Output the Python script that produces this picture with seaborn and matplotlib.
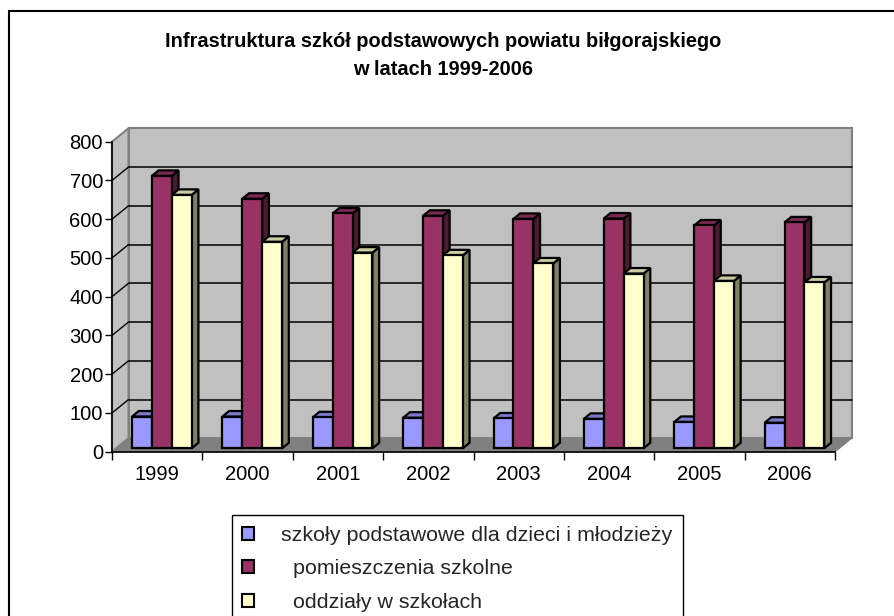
import numpy as np
import pandas as pd
import matplotlib
matplotlib.use("Agg")
import matplotlib.pyplot as plt
import seaborn as sns
from matplotlib.patches import Polygon, Rectangle, Patch

# =========================
# 1. DATA
# =========================
years = ["1999", "2000", "2001", "2002", "2003", "2004", "2005", "2006"]
series_names = [
    "szkoły podstawowe dla dzieci i młodzieży",
    "  pomieszczenia szkolne",
    "  oddziały w szkołach",
]
szkoly = [82, 82, 80, 79, 77, 76, 68, 66]
pomieszczenia = [703, 644, 606, 600, 592, 593, 575, 583]
oddzialy = [654, 533, 505, 498, 477, 451, 432, 428]
y_ticks = [0, 100, 200, 300, 400, 500, 600, 700, 800]

colors = ["#9999FF", "#993366", "#FFFFCC"]
title = "Infrastruktura szkół podstawowych powiatu biłgorajskiego\nw latach 1999-2006"

df = pd.DataFrame({
    "rok": years * 3,
    "seria": [s for s in series_names for _ in years],
    "wartosc": szkoly + pomieszczenia + oddzialy,
})

# =========================
# 2. STYLE
# =========================
sns.set_theme(style="white")
plt.rcParams["font.family"] = ["Liberation Sans", "DejaVu Sans"]

W, H = 894, 616
fig = plt.figure(figsize=(W / 100, H / 100), dpi=100)

# front plane of the pseudo-3D plot, in pixels
left_px, right_px, top_px, bottom_px = 112, 835, 141.7, 451.7
ax = fig.add_axes([left_px / W, 1 - bottom_px / H,
                   (right_px - left_px) / W, (bottom_px - top_px) / H])
ax.set_xlim(-0.5, len(years) - 0.5)
ax.set_ylim(0, 800)
ax.patch.set_visible(False)

# pixel -> data scale
px_x = len(years) / (right_px - left_px)
px_y = 800 / (bottom_px - top_px)
DX, DY = 16.5 * px_x, 13.4 * px_y     # depth of the walls
BDX, BDY = 6.7 * px_x, 5.5 * px_y     # depth of the bars
OX, OY = 4.7 * px_x, 3.4 * px_y       # bars sit inside the floor

x0, x1 = -0.5, len(years) - 0.5

# back wall, left wall, floor
ax.add_patch(Rectangle((x0 + DX, DY), x1 - x0, 800, facecolor="#C0C0C0",
                       edgecolor="#808080", lw=1.5, zorder=0.5, clip_on=False))
ax.add_patch(Polygon([(x0, 0), (x0 + DX, DY), (x0 + DX, 800 + DY), (x0, 800)],
                     closed=True, facecolor="#C0C0C0", edgecolor="#808080",
                     lw=1.5, zorder=0.6, clip_on=False))
ax.add_patch(Polygon([(x0, 0), (x1, 0), (x1 + DX, DY), (x0 + DX, DY)],
                     closed=True, facecolor="#808080", edgecolor="#808080",
                     lw=1, zorder=0.7, clip_on=False))
for t in y_ticks[1:-1]:
    ax.plot([x0 + DX, x1 + DX], [t + DY, t + DY], color="black", lw=1.1,
            zorder=0.8, clip_on=False)
    ax.plot([x0, x0 + DX], [t, t + DY], color="black", lw=1,
            zorder=0.8, clip_on=False)

# =========================
# 3. BARS
# =========================
sns.barplot(data=df, x="rok", y="wartosc", hue="seria", hue_order=series_names,
            palette=colors, saturation=1, width=0.66, edgecolor="black",
            linewidth=1.6, legend=False, ax=ax)


def shade(c, f):
    r, g, b = matplotlib.colors.to_rgb(c)
    return (r * f, g * f, b * f)


for j, cont in enumerate(ax.containers):
    for bar in cont:
        bx, bw, bh = bar.get_x(), bar.get_width(), bar.get_height()
        bar.set_x(bx + OX)
        bar.set_y(OY)
        bar.set_zorder(3 + j * 0.1 + 0.05)
        bar.set_clip_on(False)
        xa, xb = bx + OX, bx + OX + bw
        yt = OY + bh
        side = Polygon([(xb, OY), (xb + BDX, OY + BDY), (xb + BDX, yt + BDY), (xb, yt)],
                       closed=True, facecolor=shade(colors[j], 0.5),
                       edgecolor="black", lw=1.6, zorder=3 + j * 0.1, clip_on=False)
        top = Polygon([(xa, yt), (xa + BDX, yt + BDY), (xb + BDX, yt + BDY), (xb, yt)],
                      closed=True, facecolor=shade(colors[j], 0.8),
                      edgecolor="black", lw=1.6, zorder=3 + j * 0.1, clip_on=False)
        ax.add_patch(side)
        ax.add_patch(top)

# =========================
# 4. AXES
# =========================
ax.set_xlabel("")
ax.set_ylabel("")
ax.set_yticks(y_ticks)
ax.set_yticklabels([str(t) for t in y_ticks])
ax.set_xticks(range(len(years)))
ax.set_xticklabels(years)
ax.set_xticks(np.arange(-0.5, len(years), 1.0), minor=True)
ax.tick_params(axis="x", which="major", length=0, pad=9.5, labelsize=14.5, colors="black")
ax.tick_params(axis="x", which="minor", length=5.5, width=1, direction="out",
               color="black", bottom=True)
ax.tick_params(axis="y", length=5, width=1, direction="out", pad=1.5,
               labelsize=14.5, colors="black", left=True)
for s in ["top", "right"]:
    ax.spines[s].set_visible(False)
for s in ["left", "bottom"]:
    ax.spines[s].set_color("black")
    ax.spines[s].set_linewidth(1.2)
    ax.spines[s].set_zorder(5)
ax.grid(False)

# =========================
# 5. TITLE, LEGEND, BORDER
# =========================
fig.text(443 / W, 1 - 32 / H, title, ha="center", va="top", fontsize=14.4,
         fontweight="bold", linespacing=1.6, color="black")

handles = [Patch(facecolor=c, edgecolor="black", lw=1.5) for c in colors]
fig.legend(handles, series_names, loc="upper left",
           bbox_to_anchor=(231.7 / W, 1 - 515 / H), fontsize=15.4, frameon=True,
           fancybox=False, edgecolor="black", framealpha=1, borderpad=0.5,
           handlelength=0.55, handleheight=0.55, handletextpad=1.25,
           labelspacing=0.68, borderaxespad=0)

fig.add_artist(Rectangle((8.5 / W, -0.1), 1.2, 1.1 - 10.5 / H,
                         transform=fig.transFigure, facecolor="none",
                         edgecolor="black", lw=1.5, zorder=-1))

fig.savefig("out.png", dpi=100)
